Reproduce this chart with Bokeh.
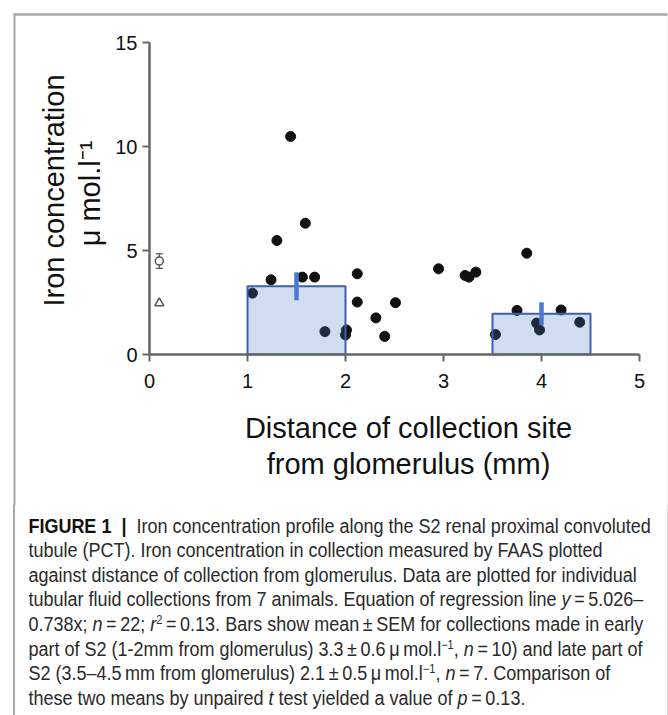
import math
from bokeh.plotting import figure
from bokeh.models import Range1d, LinearAxis, FixedTicker, Label, Div, ColumnDataSource, Whisker, TeeHead
from bokeh.layouts import column
from bokeh.embed import file_html
from bokeh.resources import INLINE

# ---------------- data ----------------
dist_mm = [1.05, 1.24, 1.30, 1.44, 1.56, 1.59, 1.685, 1.79, 2.00, 2.01,
           2.12, 2.12, 2.31, 2.40, 2.51, 2.95, 3.22, 3.26, 3.33,
           3.53, 3.75, 3.85, 3.95, 3.98, 4.20, 4.39]
iron_conc = [2.95, 3.59, 5.48, 10.48, 3.72, 6.31, 3.72, 1.10, 0.94, 1.18,
             3.88, 2.52, 1.76, 0.87, 2.49, 4.12, 3.80, 3.72, 3.96,
             0.96, 2.12, 4.87, 1.51, 1.18, 2.14, 1.55]

bar_left = [1.0, 3.5]
bar_right = [2.0, 4.5]
bar_mean = [3.28, 1.96]
bar_sem = [0.67, 0.55]

ref_circle_x = [0.1]
ref_circle_mean = [4.49]
ref_circle_sem = [0.35]
ref_triangle_x = [0.1]
ref_triangle_val = [2.47]

x_ticks = [0, 1, 2, 3, 4, 5]
y_ticks = [0, 5, 10, 15]

x_label_lines = ["Distance of collection site", "from glomerulus (mm)"]
y_label_lines = ["Iron concentration", "\u03bc mol.l\u207b\u00b9"]

# ---------------- layout constants (pixels) ----------------
W = 668
H_FIG = 505
H_CAP = 210
X0PX, XSCALE = 149.0, 98.0     # pixel of x=0, px per mm
Y0PX, YSCALE = 354.0, 20.8     # pixel of y=0, px per unit


def px2x(px):
    return (px - X0PX) / XSCALE


def py2y(py):
    return (Y0PX - py) / YSCALE


FONT = "Liberation Sans"
AX_COL = "#666666"

p = figure(width=W, height=H_FIG, output_backend="svg", toolbar_location=None,
           x_axis_location=None, y_axis_location=None,
           x_range=Range1d(px2x(0), px2x(W)), y_range=Range1d(py2y(H_FIG), py2y(0)),
           min_border=0, min_border_left=0, min_border_right=0,
           min_border_top=0, min_border_bottom=0)
p.outline_line_color = None
p.background_fill_color = "white"
p.border_fill_color = "white"
for g in p.grid:
    g.visible = False

# outer frame (decoration)
p.line(x=[px2x(13), px2x(667)], y=[py2y(14), py2y(14)],
       line_color="#a8a8a8", line_width=2.5)
p.line(x=[px2x(14), px2x(14)], y=[py2y(13), py2y(H_FIG + 2)],
       line_color="#a8a8a8", line_width=2)
p.line(x=[px2x(667.5), px2x(667.5)], y=[py2y(13), py2y(H_FIG + 2)],
       line_color="#dddddd", line_width=1)

# axes
xa = LinearAxis(fixed_location=0, bounds=(min(x_ticks), max(x_ticks)),
                ticker=FixedTicker(ticks=x_ticks))
ya = LinearAxis(fixed_location=0, bounds=(min(y_ticks), max(y_ticks)),
                ticker=FixedTicker(ticks=y_ticks))
for ax in (xa, ya):
    ax.axis_line_color = AX_COL
    ax.axis_line_width = 2.5
    ax.major_tick_line_color = AX_COL
    ax.major_tick_line_width = 2
    ax.major_tick_out = 7
    ax.major_tick_in = 0
    ax.minor_tick_out = 0
    ax.minor_tick_in = 0
    ax.major_label_text_font = FONT
    ax.major_label_text_font_size = "20px"
    ax.major_label_text_color = "#111111"
xa.major_label_standoff = 12
ya.major_label_standoff = 5
p.add_layout(xa, "below")
p.add_layout(ya, "left")

# data points
src = ColumnDataSource(dict(x=dist_mm, y=iron_conc))
p.scatter("x", "y", source=src, size=10, color="#111111")

# group mean bars (translucent over the dots)
bsrc = ColumnDataSource(dict(left=bar_left, right=bar_right, top=bar_mean,
                             bottom=[0] * len(bar_mean)))
p.quad(left="left", right="right", top="top", bottom="bottom", source=bsrc,
       fill_color="#4472c4", fill_alpha=0.25, line_color="#3f5fae", line_width=2)

# SEM lines
mid = [(a + b) / 2 for a, b in zip(bar_left, bar_right)]
p.segment(x0=mid, x1=mid,
          y0=[m - s for m, s in zip(bar_mean, bar_sem)],
          y1=[m + s for m, s in zip(bar_mean, bar_sem)],
          line_color="#4a78cf", line_width=4.5)

# reference markers near x=0
rsrc = ColumnDataSource(dict(x=ref_circle_x, y=ref_circle_mean,
                             lo=[m - s for m, s in zip(ref_circle_mean, ref_circle_sem)],
                             hi=[m + s for m, s in zip(ref_circle_mean, ref_circle_sem)]))
p.add_layout(Whisker(base="x", lower="lo", upper="hi", source=rsrc, dimension="height",
                     line_color="#555555", line_width=1.3,
                     lower_head=TeeHead(size=7, line_color="#555555", line_width=1.3),
                     upper_head=TeeHead(size=7, line_color="#555555", line_width=1.3)))
p.scatter("x", "y", source=rsrc, marker="circle", size=8, fill_color="white",
          line_color="#555555", line_width=1.5)
p.scatter(ref_triangle_x, ref_triangle_val, marker="triangle", size=9,
          fill_color="white", line_color="#555555", line_width=1.5)

# axis titles
for txt, bpx in zip(x_label_lines, [427, 463]):
    p.add_layout(Label(x=px2x(408), y=py2y(bpx), text=txt, text_font=FONT,
                       text_font_size="29px", text_align="center",
                       text_baseline="alphabetic", text_color="#111111"))
for txt, bpx, cy in zip(y_label_lines, [53, 89], [190, 193]):
    p.add_layout(Label(x=px2x(bpx), y=py2y(cy), text=txt, text_font=FONT,
                       text_font_size="29px", text_align="center",
                       text_baseline="alphabetic", angle=math.pi / 2,
                       text_color="#111111"))

# caption
T = "\u2009"
SUP = "<sup style='font-size:12px;line-height:0'>"
cap_lines = [
    "<b style='color:#111'>FIGURE 1 &nbsp;|</b>&nbsp; Iron concentration profile along the S2 renal proximal convoluted",
    "tubule (PCT). Iron concentration in collection measured by FAAS plotted",
    "against distance of collection from glomerulus. Data are plotted for individual",
    f"tubular fluid collections from 7 animals. Equation of regression line <i>y</i>{T}={T}5.026\u2013",
    f"0.738x; <i>n</i>{T}={T}22; <i>r</i>{SUP}2</sup>{T}={T}0.13. Bars show mean{T}\u00b1{T}SEM for collections made in early",
    f"part of S2 (1-2mm from glomerulus) 3.3{T}\u00b1{T}0.6{T}\u03bc{T}mol.l{SUP}\u22121</sup>, <i>n</i>{T}={T}10) and late part of",
    f"S2 (3.5\u20134.5{T}mm from glomerulus) 2.1{T}\u00b1{T}0.5{T}\u03bc{T}mol.l{SUP}\u22121</sup>, <i>n</i>{T}={T}7. Comparison of",
    f"these two means by unpaired <i>t</i> test yielded a value of <i>p</i>{T}={T}0.13.",
]
html = ("<div style=\"box-sizing:border-box;width:655px;height:%dpx;margin:0 0 0 13px;"
        "border-left:2px solid #a8a8a8;border-right:1px solid #dddddd;overflow:hidden;\">"
        "<div style=\"padding:8.6px 0 0 14.5px;font-family:'Liberation Sans',Arial,sans-serif;"
        "font-size:19.5px;line-height:24.6px;color:#2a2a2a;white-space:nowrap;"
        "transform:scaleX(0.923);transform-origin:0 0;\">"
        % H_CAP) + "<br>".join(cap_lines) + "</div></div>"
cap = Div(text=html, width=W, height=H_CAP, margin=0)

layout = column(p, cap, spacing=0)
open("out.html", "w").write(file_html(layout, INLINE))
